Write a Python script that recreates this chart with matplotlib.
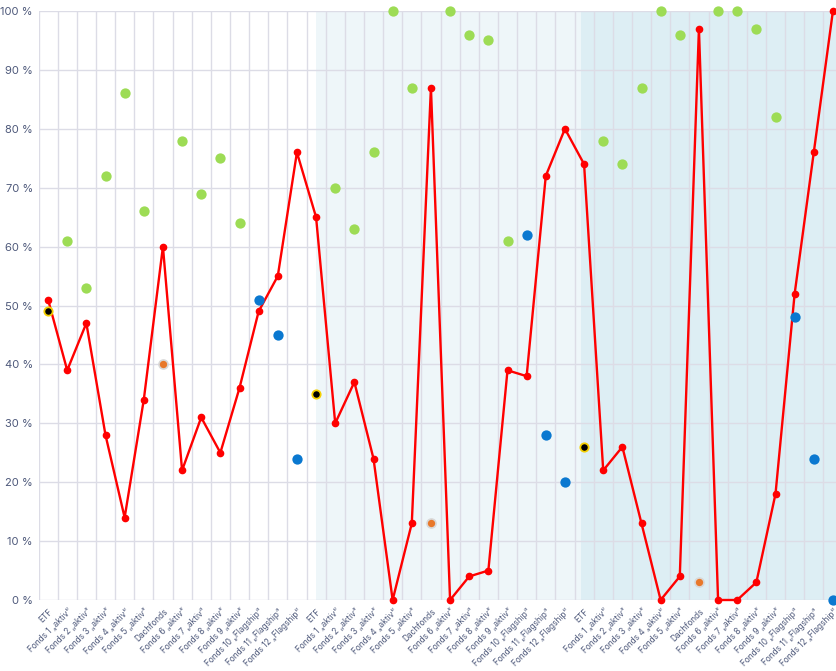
import matplotlib
matplotlib.use("Agg")
import matplotlib.pyplot as plt
import numpy as np

plt.rcParams["font.family"] = ["Inter", "DejaVu Sans"]

# categories, repeated for three blocks
block = ["ETF", "Fonds 1 „aktiv“", "Fonds 2 „aktiv“", "Fonds 3 „aktiv“", "Fonds 4 „aktiv“",
         "Fonds 5 „aktiv“", "Dachfonds", "Fonds 6 „aktiv“", "Fonds 7 „aktiv“", "Fonds 8 „aktiv“",
         "Fonds 9 „aktiv“", "Fonds 10 „Flagship“", "Fonds 11 „Flagship“", "Fonds 12 „Flagship“"]
categories = block * 3

# red line, one value per category
line_values = [51, 39, 47, 28, 14, 34, 60, 22, 31, 25, 36, 49, 55, 76,
               65, 30, 37, 24, 0, 13, 87, 0, 4, 5, 39, 38, 72, 80,
               74, 22, 26, 13, 0, 4, 97, 0, 0, 3, 18, 52, 76, 100]

# scatter series: (category index, value)
aktiv_idx = [1, 2, 3, 4, 5, 7, 8, 9, 10,
             15, 16, 17, 18, 19, 21, 22, 23, 24,
             29, 30, 31, 32, 33, 35, 36, 37, 38]
aktiv_values = [61, 53, 72, 86, 66, 78, 69, 75, 64,
                70, 63, 76, 100, 87, 100, 96, 95, 61,
                78, 74, 87, 100, 96, 100, 100, 97, 82]

flagship_idx = [11, 12, 13, 25, 26, 27, 39, 40, 41]
flagship_values = [51, 45, 24, 62, 28, 20, 48, 24, 0]

dach_idx = [6, 20, 34]
dach_values = [40, 13, 3]

etf_idx = [0, 14, 28]
etf_values = [49, 35, 26]

fig = plt.figure(figsize=(8.36, 6.71), dpi=100)
ax = fig.add_axes([38.5 / 836, 71 / 671, 804 / 836, 589 / 671])

n = len(categories)
x = np.arange(n)

# background bands for 2nd and 3rd block
ax.axvspan(14.0, 27.83, color="#eef6f9", zorder=0, lw=0)
ax.axvspan(27.83, n + 1, color="#ddeef4", zorder=0, lw=0)

# grid: category boundaries and y steps
for b in np.arange(-0.5, n, 1.0):
    ax.axvline(b, color="#dcdce6", lw=1, zorder=1)
for v in range(0, 101, 10):
    ax.axhline(v, color="#dcdce6", lw=1, zorder=1)

ax.plot(x, line_values, color="#ff0000", lw=1.7, marker="o", ms=4.5, zorder=3, clip_on=False)

ax.scatter(aktiv_idx, aktiv_values, s=55, color="#9ddc55", zorder=4, clip_on=False, lw=0)
ax.scatter(flagship_idx, flagship_values, s=55, color="#0a78d0", zorder=4, clip_on=False, lw=0)
ax.scatter(dach_idx, dach_values, s=42, color="#e8782a", edgecolor="#d8d8d8", lw=1.2,
           zorder=4, clip_on=False)
ax.scatter(etf_idx, etf_values, s=36, color="#000000", edgecolor="#f5d000", lw=1.3,
           zorder=5, clip_on=False)

ax.set_xlim(-0.5, n - 0.5)
ax.set_ylim(0, 100)
for s in ax.spines.values():
    s.set_visible(False)

ax.set_xticks(x)
ax.set_xticklabels(categories, rotation=45, ha="right", va="top", rotation_mode="anchor",
                   fontsize=6, color="#4d587a")
ax.set_yticks(range(0, 101, 10))
ax.set_yticklabels([f"{v} %" for v in range(0, 101, 10)], fontsize=8, color="#4d587a")
ax.tick_params(length=0, pad=4)
ax.tick_params(axis="x", pad=5)

fig.savefig("out.png", dpi=100)
